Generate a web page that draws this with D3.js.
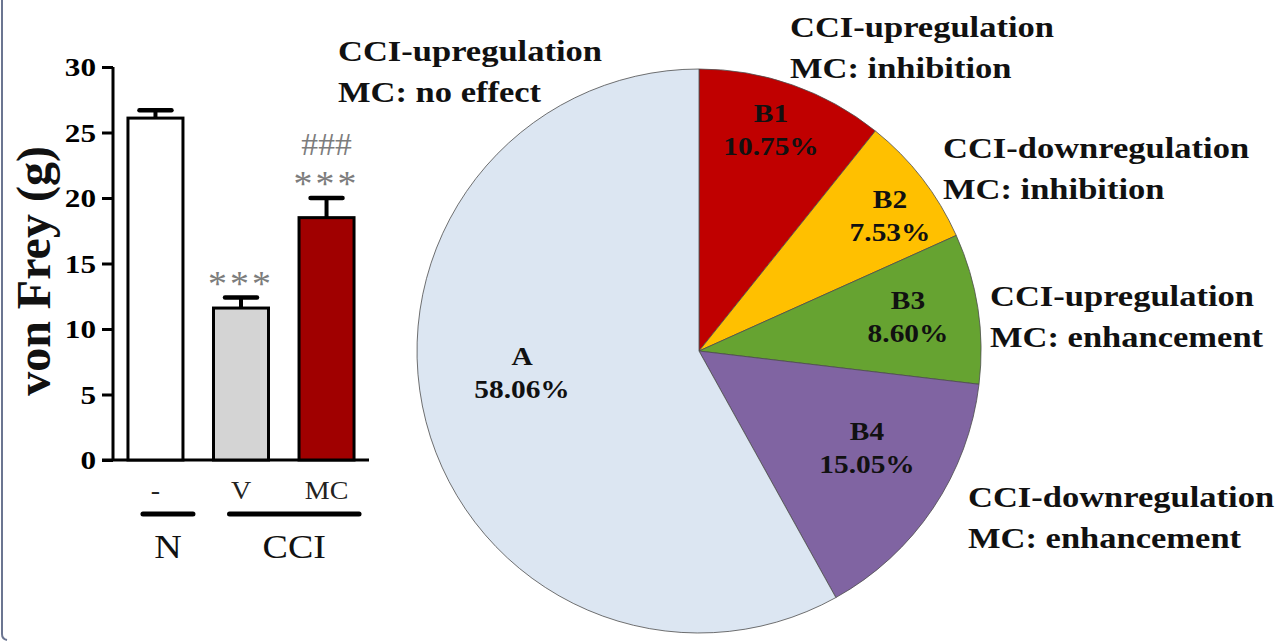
<!DOCTYPE html>
<html><head><meta charset="utf-8">
<script src="https://cdn.jsdelivr.net/npm/d3@7"></script>
<style>body{margin:0;background:#fff}svg{display:block}text{font-family:"Liberation Serif","Times New Roman",serif}</style>
</head><body><svg id="c" width="1284" height="641"></svg>
<script>
// ---- data ----
const barGroups = ["-", "V", "MC"];
const barValues = [26.1, 11.6, 18.5];
const barErrors = [0.6, 0.8, 1.5];
const barColors = ["#ffffff", "#d4d4d4", "#a00000"];
const barMarks = [[], ["***"], ["###", "***"]];
const yTicks = [0, 5, 10, 15, 20, 25, 30];
const groupLabels = ["N", "CCI"];
const groupMembers = [["-"], ["V", "MC"]];

const sliceNames = ["B1", "B2", "B3", "B4", "A"];
const slicePercents = [10.75, 7.53, 8.60, 15.05, 58.06];
const sliceColors = ["#c00000", "#ffc000", "#66a331", "#8064a2", "#dce6f2"];
const sliceDescriptions = [
  ["CCI-upregulation", "MC: inhibition"],
  ["CCI-downregulation", "MC: inhibition"],
  ["CCI-upregulation", "MC: enhancement"],
  ["CCI-downregulation", "MC: enhancement"],
  ["CCI-upregulation", "MC: no effect"]
];

// ---- layout ----
const SX = 1.18; // horizontal stretch of the original figure's text
const svg = d3.select("#c");
function stext(parent, x, y, str, size, opts = {}) {
  const g = parent.append("g").attr("transform", `translate(${x},${y}) scale(${opts.sx || SX},1)`);
  return g.append("text").attr("font-size", size)
    .attr("font-weight", opts.bold ? "bold" : "normal")
    .attr("text-anchor", opts.anchor || "start")
    .attr("fill", opts.fill || "#111")
    .attr("letter-spacing", opts.ls || 0)
    .text(str);
}

// border on left
svg.append("path").attr("d", "M2,0 L2,634 Q2,639 7,640").attr("fill", "none")
  .attr("stroke", "#6b7591").attr("stroke-width", 2);

// ---- bar chart ----
const y = d3.scaleLinear().domain([0, 30]).range([460, 67]);
const x = d3.scaleBand().domain(barGroups).range([113, 369]).paddingInner(0.357).paddingOuter(0.175);

const gAxis = svg.append("g").attr("transform", "translate(113,0)")
  .call(d3.axisLeft(y).tickValues(yTicks).tickSize(11).tickFormat(d3.format("d")));
gAxis.select(".domain").attr("stroke", "#000").attr("stroke-width", 3).attr("d", "M0,67V460");
gAxis.selectAll(".tick line").attr("stroke", "#000").attr("stroke-width", 3);
gAxis.selectAll(".tick text").remove();
yTicks.forEach(t => stext(svg, 96, y(t) + 9, String(t), 26, {bold: true, anchor: "end", sx: 1.2, fill: "#000"}));

svg.append("line").attr("x1", 102).attr("x2", 369).attr("y1", 460).attr("y2", 460)
  .attr("stroke", "#000").attr("stroke-width", 3);

barGroups.forEach((g, i) => {
  const cx = x(g) + x.bandwidth() / 2;
  const top = y(barValues[i] + barErrors[i]);
  svg.append("line").attr("x1", cx).attr("x2", cx).attr("y1", y(barValues[i])).attr("y2", top)
    .attr("stroke", "#000").attr("stroke-width", 4);
  svg.append("line").attr("x1", cx - 16).attr("x2", cx + 16).attr("y1", top).attr("y2", top)
    .attr("stroke", "#000").attr("stroke-width", 4.5).attr("stroke-linecap", "round");
  svg.append("rect").attr("x", x(g)).attr("y", y(barValues[i])).attr("width", x.bandwidth())
    .attr("height", y(0) - y(barValues[i])).attr("fill", barColors[i])
    .attr("stroke", "#000").attr("stroke-width", 3);
  barMarks[i].forEach((m, k) => {
    const fromTop = barMarks[i].length - 1 - k; // 0 = closest to bar
    const base = fromTop === 0 ? top - 2 : top - 43;
    stext(svg, cx, base, m, m === "###" ? 32 : 36, {anchor: "middle", fill: "#7d7d7d", ls: m === "###" ? 0 : 3, sx: 1.05});
  });
  stext(svg, cx, 499, g, 25, {anchor: "middle", fill: "#222", sx: 1.12});
});

// group lines
groupLabels.forEach((lab, j) => {
  const mem = groupMembers[j];
  const a = x(mem[0]), b = x(mem[mem.length - 1]) + x.bandwidth();
  const ext = mem.length === 1 ? [a + 15, b + 10] : [a + 16, b + 5];
  svg.append("line").attr("x1", ext[0]).attr("x2", ext[1]).attr("y1", 514).attr("y2", 514)
    .attr("stroke", "#000").attr("stroke-width", 5).attr("stroke-linecap", "round");
  stext(svg, (ext[0] + ext[1]) / 2, 558, lab, 34, {anchor: "middle", sx: 1.12});
});

svg.append("text").attr("transform", "translate(50,271) rotate(-90)").attr("text-anchor", "middle")
  .attr("font-size", 48).attr("font-weight", "bold").attr("fill", "#111").text("von Frey (g)");

// ---- pie ----
const pcx = 699, pcy = 351, R = 282;
const pie = d3.pie().sort(null).value(d => d)(slicePercents);
const arc = d3.arc().innerRadius(0).outerRadius(R);
const gp = svg.append("g").attr("transform", `translate(${pcx},${pcy})`);
gp.selectAll("path").data(pie).join("path").attr("d", arc)
  .attr("fill", (d, i) => sliceColors[i]).attr("stroke", "#4d4d4d").attr("stroke-width", 0.8);

// label anchor: [x center, name baseline]
const labelPos = [[771, 122], [890, 208], [908, 309], [867, 440], [522, 365]];
pie.forEach((d, i) => {
  stext(svg, labelPos[i][0], labelPos[i][1], sliceNames[i], 24.5, {bold: true, anchor: "middle", sx: 1.2});
  stext(svg, labelPos[i][0], labelPos[i][1] + 33, slicePercents[i].toFixed(2) + "%", 24.5, {bold: true, anchor: "middle", sx: 1.2});
});

const descPos = [[790, 37], [943, 158], [990, 306], [968, 507], [338, 61]];
sliceDescriptions.forEach((lines, i) => {
  lines.forEach((l, k) => stext(svg, descPos[i][0], descPos[i][1] + k * 41, l, 29.5, {bold: true, sx: 1.17}));
});
</script></body></html>
